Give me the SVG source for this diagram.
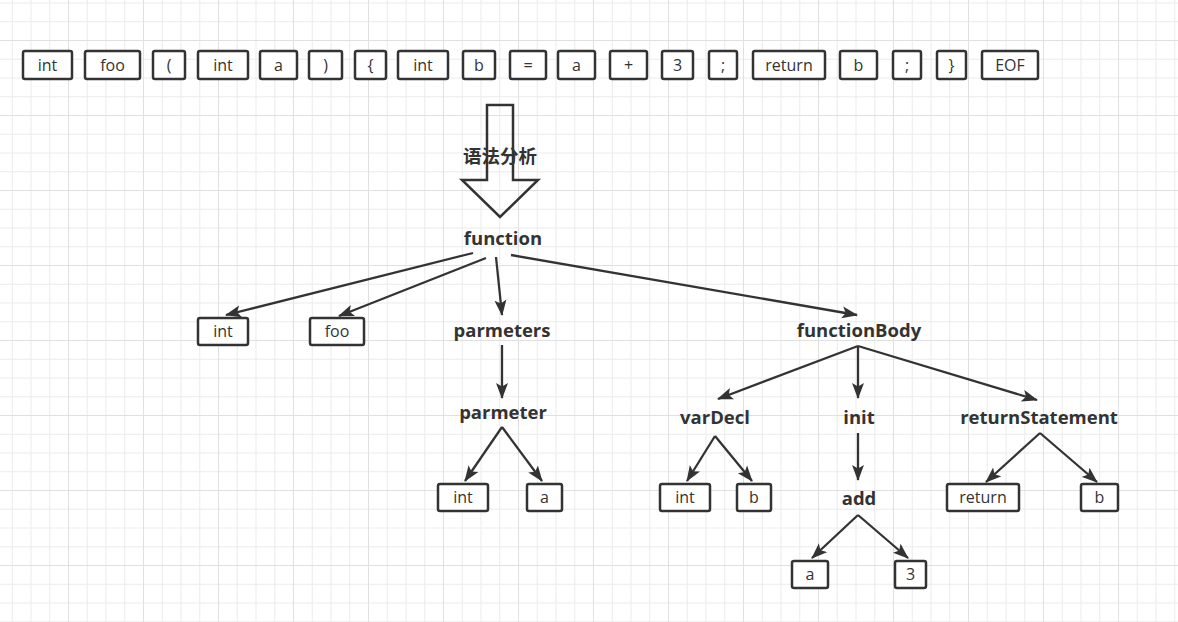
<svg xmlns="http://www.w3.org/2000/svg" width="1178" height="622" viewBox="0 0 1178 622">
<style>
.box{fill:#fff;stroke:#333;stroke-width:2.5}
.bt{font-family:"Open Sans","Noto Sans",sans-serif;font-size:16px;fill:#333;text-anchor:middle}
.lb{font-family:"Open Sans","Noto Sans",sans-serif;font-size:18.5px;font-weight:bold;fill:#333;text-anchor:middle}
.cn{fill:none;stroke:#333;stroke-width:2.3;marker-end:url(#ah)}
</style>
<defs>
<pattern id="grid" width="75" height="75" patternUnits="userSpaceOnUse" patternTransform="translate(68,40)">
<g fill="#ebebeb">
<rect x="18.75" y="0" width="1" height="75"/><rect x="37.5" y="0" width="1" height="75"/><rect x="56.25" y="0" width="1" height="75"/>
<rect x="0" y="18.75" width="75" height="1"/><rect x="0" y="37.5" width="75" height="1"/><rect x="0" y="56.25" width="75" height="1"/>
</g>
<g fill="#e0e0e0"><rect x="0" y="0" width="1" height="75"/><rect x="0" y="0" width="75" height="1"/></g>
</pattern>
<marker id="ah" markerUnits="userSpaceOnUse" markerWidth="17" markerHeight="13" refX="15" refY="6.5" orient="auto">
<path d="M0,0.5 L16,6.5 L0,12.5 L3.5,6.5 z" fill="#333"/>
</marker>
</defs>
<rect width="1178" height="622" fill="#fff"/>
<rect width="1178" height="622" fill="url(#grid)"/>

<g id="tokens">
<g id="t1"><rect class="box" x="23" y="51" width="49" height="28" rx="2"/><text class="bt" x="47.5" y="70.5">int</text></g>
<g id="t2"><rect class="box" x="85" y="51" width="55" height="28" rx="2"/><text class="bt" x="112.5" y="70.5">foo</text></g>
<g id="t3"><rect class="box" x="153" y="51" width="32" height="28" rx="2"/><text class="bt" x="169" y="70.5">(</text></g>
<g id="t4"><rect class="box" x="198" y="51" width="50" height="28" rx="2"/><text class="bt" x="223" y="70.5">int</text></g>
<g id="t5"><rect class="box" x="260" y="51" width="37" height="28" rx="2"/><text class="bt" x="278.5" y="70.5">a</text></g>
<g id="t6"><rect class="box" x="309" y="51" width="33" height="28" rx="2"/><text class="bt" x="325.5" y="70.5">)</text></g>
<g id="t7"><rect class="box" x="355" y="51" width="31" height="28" rx="2"/><text class="bt" x="370.5" y="70.5">{</text></g>
<g id="t8"><rect class="box" x="398" y="51" width="50" height="28" rx="2"/><text class="bt" x="423" y="70.5">int</text></g>
<g id="t9"><rect class="box" x="463" y="51" width="32" height="28" rx="2"/><text class="bt" x="479" y="70.5">b</text></g>
<g id="t10"><rect class="box" x="510" y="51" width="36" height="28" rx="2"/><text class="bt" x="528" y="70.5">=</text></g>
<g id="t11"><rect class="box" x="558" y="51" width="37" height="28" rx="2"/><text class="bt" x="576.5" y="70.5">a</text></g>
<g id="t12"><rect class="box" x="610" y="51" width="37" height="28" rx="2"/><text class="bt" x="628.5" y="70.5">+</text></g>
<g id="t13"><rect class="box" x="662" y="51" width="31" height="28" rx="2"/><text class="bt" x="677.5" y="70.5">3</text></g>
<g id="t14"><rect class="box" x="709" y="51" width="28" height="28" rx="2"/><text class="bt" x="723" y="70.5">;</text></g>
<g id="t15"><rect class="box" x="753" y="51" width="72" height="28" rx="2"/><text class="bt" x="789" y="70.5">return</text></g>
<g id="t16"><rect class="box" x="840" y="51" width="37" height="28" rx="2"/><text class="bt" x="858.5" y="70.5">b</text></g>
<g id="t17"><rect class="box" x="893" y="51" width="28" height="28" rx="2"/><text class="bt" x="907" y="70.5">;</text></g>
<g id="t18"><rect class="box" x="937" y="51" width="29" height="28" rx="2"/><text class="bt" x="951.5" y="70.5">}</text></g>
<g id="t19"><rect class="box" x="982" y="51" width="56" height="28" rx="2"/><text class="bt" x="1010" y="70.5">EOF</text></g>
</g>

<g id="parse-arrow">
<text x="500" y="163" font-family="'Open Sans','Noto Sans CJK SC',sans-serif" font-size="18.5" font-weight="bold" fill="#333" text-anchor="middle">语法分析</text>
<polygon points="487,105 513,105 513,180 538,180 500,217 462,180 487,180" fill="none" stroke="#333" stroke-width="2.5" stroke-linejoin="miter"/>
</g>

<g id="connectors">
<line class="cn" x1="473" y1="253" x2="226" y2="315"/>
<line class="cn" x1="486" y1="258" x2="339" y2="316"/>
<line class="cn" x1="496" y1="257" x2="502" y2="315"/>
<line class="cn" x1="511" y1="255" x2="857" y2="315"/>
<line class="cn" x1="502" y1="345" x2="502" y2="398"/>
<line class="cn" x1="502" y1="427" x2="465" y2="481"/>
<line class="cn" x1="502" y1="427" x2="542" y2="481"/>
<line class="cn" x1="858" y1="346" x2="718" y2="399"/>
<line class="cn" x1="858" y1="346" x2="858" y2="398"/>
<line class="cn" x1="858" y1="346" x2="1037" y2="400"/>
<line class="cn" x1="715" y1="436" x2="687" y2="481"/>
<line class="cn" x1="715" y1="436" x2="752" y2="481"/>
<line class="cn" x1="858" y1="433" x2="858" y2="480"/>
<line class="cn" x1="858" y1="515" x2="812" y2="558"/>
<line class="cn" x1="858" y1="515" x2="908" y2="558"/>
<line class="cn" x1="1040" y1="433" x2="986" y2="482"/>
<line class="cn" x1="1040" y1="433" x2="1097" y2="482"/>
</g>

<g id="n-function"><text class="lb" x="503" y="245">function</text></g>
<g id="n-int1"><rect class="box" x="198" y="318" width="50" height="27" rx="2"/><text class="bt" x="223" y="337">int</text></g>
<g id="n-foo"><rect class="box" x="310" y="318" width="54" height="27" rx="2"/><text class="bt" x="337" y="337">foo</text></g>
<g id="n-parmeters"><text class="lb" x="502" y="337">parmeters</text></g>
<g id="n-functionBody"><text class="lb" x="859" y="337">functionBody</text></g>
<g id="n-parmeter"><text class="lb" x="503" y="419">parmeter</text></g>
<g id="n-varDecl"><text class="lb" x="715" y="424">varDecl</text></g>
<g id="n-init"><text class="lb" x="859" y="424">init</text></g>
<g id="n-returnStatement"><text class="lb" x="1039" y="424">returnStatement</text></g>
<g id="n-int2"><rect class="box" x="438" y="484" width="50" height="27" rx="2"/><text class="bt" x="463" y="503">int</text></g>
<g id="n-a1"><rect class="box" x="527" y="484" width="35" height="27" rx="2"/><text class="bt" x="544.5" y="503">a</text></g>
<g id="n-int3"><rect class="box" x="660" y="484" width="50" height="27" rx="2"/><text class="bt" x="685" y="503">int</text></g>
<g id="n-b1"><rect class="box" x="737" y="484" width="34" height="27" rx="2"/><text class="bt" x="754" y="503">b</text></g>
<g id="n-add"><text class="lb" x="859" y="505">add</text></g>
<g id="n-a2"><rect class="box" x="792" y="561" width="36" height="27" rx="2"/><text class="bt" x="810" y="580">a</text></g>
<g id="n-3"><rect class="box" x="895" y="561" width="31" height="27" rx="2"/><text class="bt" x="910.5" y="580">3</text></g>
<g id="n-return"><rect class="box" x="947" y="484" width="72" height="27" rx="2"/><text class="bt" x="983" y="503">return</text></g>
<g id="n-b2"><rect class="box" x="1081" y="484" width="37" height="27" rx="2"/><text class="bt" x="1099.5" y="503">b</text></g>
</svg>
